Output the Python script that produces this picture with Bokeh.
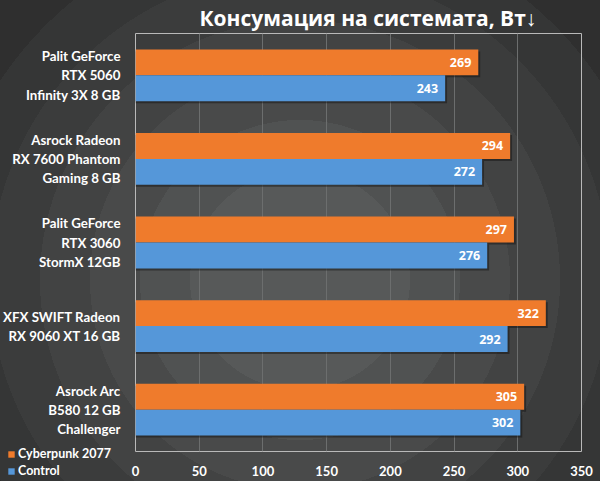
from bokeh.plotting import figure
from bokeh.layouts import column
from bokeh.models import ColumnDataSource, FactorRange, Range1d, FixedTicker, Legend, LegendItem
from bokeh.transform import dodge
from bokeh.core.properties import value
from bokeh.embed import file_html
from bokeh.resources import INLINE

title_text = "Консумация на системата, Вт↓"
gpus = [
    "Palit GeForce\nRTX 5060\nInfinity 3X 8 GB",
    "Asrock Radeon\nRX 7600 Phantom\nGaming 8 GB",
    "Palit GeForce\nRTX 3060\nStormX 12GB",
    "XFX SWIFT Radeon\nRX 9060 XT 16 GB",
    "Asrock Arc\nB580 12 GB\nChallenger",
]
cyberpunk = [269, 294, 297, 322, 305]
control = [243, 272, 276, 292, 302]
series_names = ["Cyberpunk 2077", "Control"]
x_ticks = [0, 50, 100, 150, 200, 250, 300, 350]

ORANGE = "#ef7b2c"
BLUE = "#5597d9"
LABEL_FONT = "Lato"
BAR_H = 0.31
SHADOW_DX = 1.5     # in x units (~2px)
SHADOW_DY = 0.024   # in category units (~2px)

src = ColumnDataSource(dict(
    gpu=gpus,
    cyberpunk=cyberpunk,
    control=control,
    cyberpunk_txt=[str(v) for v in cyberpunk],
    control_txt=[str(v) for v in control],
))

p = figure(
    width=600, height=481,
    y_range=FactorRange(factors=gpus[::-1]),
    x_range=Range1d(0, 350),
    output_backend="svg", toolbar_location=None,
    min_border_left=134, min_border_right=19, min_border_top=32, min_border_bottom=30,
)

p.styles = {
    "background": "radial-gradient(circle at 300px 280px, "
                  "#575959 0px, #575959 110px, #505252 110px, #505252 160px, "
                  "#494a4a 160px, #494a4a 210px, #424343 210px, #424343 260px, "
                  "#3b3c3c 260px, #3b3c3c 310px, #353636 310px, #353636 360px, "
                  "#2f2f2f 360px)"
}
p.background_fill_alpha = 0
p.border_fill_alpha = 0
p.outline_line_color = "#b9b9b9"
p.outline_line_width = 1

renderers = {}
for col, off, color in (("cyberpunk", BAR_H / 2, ORANGE), ("control", -BAR_H / 2, BLUE)):
    # soft drop shadow
    p.hbar(y=dodge("gpu", off - SHADOW_DY, range=p.y_range),
           right=dodge(col, SHADOW_DX), left=0, height=BAR_H, source=src,
           fill_color="#101010", fill_alpha=0.45, line_color=None)
    renderers[col] = p.hbar(y=dodge("gpu", off, range=p.y_range), right=col, left=0,
                            height=BAR_H, source=src, fill_color=color, line_color=None)

for col, off in (("cyberpunk", BAR_H / 2), ("control", -BAR_H / 2)):
    p.text(x=col, y=dodge("gpu", off, range=p.y_range), text=col + "_txt",
           source=src, text_align="right", text_baseline="middle", x_offset=-7,
           text_color="white", text_font=value("Open Sans"), text_font_style="bold",
           text_font_size="12.5px")

p.title.text = title_text
p.title.text_color = "white"
p.title.text_font = "Open Sans"
p.title.text_font_style = "bold"
p.title.text_font_size = "21px"
p.title.align = "left"
p.title.offset = 64
p.title.standoff = 3

p.xaxis.ticker = FixedTicker(ticks=x_ticks)
for ax in (p.xaxis[0], p.yaxis[0]):
    ax.axis_line_color = None
    ax.major_tick_line_color = None
    ax.minor_tick_line_color = None
    ax.major_tick_out = 0
    ax.major_tick_in = 0
    ax.minor_tick_out = 0
    ax.major_label_text_color = "white"
    ax.major_label_text_font = LABEL_FONT
    ax.major_label_text_font_style = "bold"
p.xaxis.major_label_text_font_size = "13px"
p.xaxis.major_label_standoff = 14
p.yaxis.major_label_text_font_size = "13.3px"
p.yaxis.major_label_standoff = 15

p.xgrid.grid_line_color = "#6c6e6e"
p.ygrid.grid_line_color = None

# legend panel overlaid at the bottom-left corner
lf = figure(frame_width=140, frame_height=33, x_range=p.x_range, y_range=p.y_range,
            x_axis_type=None, y_axis_type=None, output_backend="svg",
            toolbar_location=None, min_border=0, min_border_left=0,
            min_border_right=0, min_border_top=0, min_border_bottom=0)
lf.outline_line_color = None
lf.background_fill_alpha = 0
lf.border_fill_alpha = 0
lf.xgrid.visible = False
lf.ygrid.visible = False
lr1 = lf.hbar(y=dodge("gpu", BAR_H / 2, range=p.y_range), right="cyberpunk", left=0,
              height=BAR_H, source=src, fill_color=ORANGE, line_color=None, visible=False)
lr2 = lf.hbar(y=dodge("gpu", -BAR_H / 2, range=p.y_range), right="control", left=0,
              height=BAR_H, source=src, fill_color=BLUE, line_color=None, visible=False)
legend = Legend(items=[
    LegendItem(label=series_names[0], renderers=[lr1]),
    LegendItem(label=series_names[1], renderers=[lr2]),
], location=(7, 0))
legend.background_fill_alpha = 0
legend.border_line_alpha = 0
legend.inactive_fill_alpha = 0
legend.padding = 0
legend.margin = 0
legend.spacing = 2
legend.glyph_width = 8
legend.glyph_height = 8
legend.label_height = 15
legend.label_standoff = 3
legend.label_text_color = "white"
legend.label_text_font = LABEL_FONT
legend.label_text_font_style = "bold"
legend.label_text_font_size = "12.5px"
lf.add_layout(legend, "center")
lf.styles = {"margin-top": "-36px"}

layout = column(p, lf, spacing=0)
open("out.html", "w").write(file_html(layout, INLINE))
